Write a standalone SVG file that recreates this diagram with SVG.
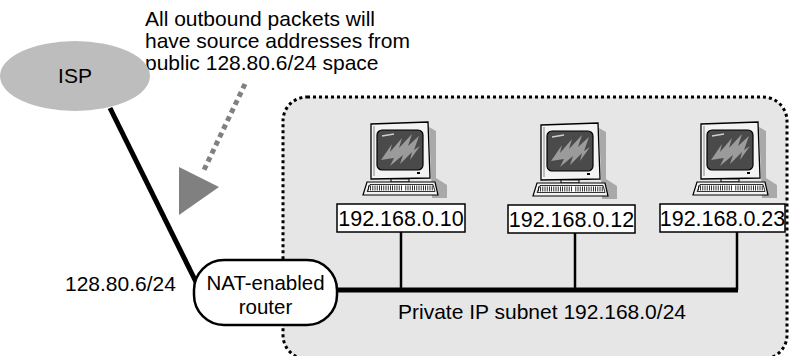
<svg xmlns="http://www.w3.org/2000/svg" width="789" height="356" viewBox="0 0 789 356">
  <style>
    text { font-family: "Liberation Sans", Arial, sans-serif; fill: #000; }
    .t20 { font-size: 21px; }
    .rt { font-size: 20.5px; text-anchor: middle; }
    .lbl { font-size: 21.5px; text-anchor: middle; }
    .box { fill: #fff; stroke: #000; stroke-width: 1.5; }
    .drop { stroke: #000; stroke-width: 2.5; }
    .thick { stroke: #000; stroke-width: 5; fill: none; }
  </style>
  <defs>
    <!-- desktop computer icon, origin at top centre of monitor -->
    <g id="pc">
      <path d="M29,5 L36,9 L36,56 L47,63 L47,76 L32,76 Z" fill="#a9a9a9"/>
      <path d="M-29,2 L28,0 L30,56 L-29,57 Z" fill="#f3f3f3" stroke="#000" stroke-width="1.3"/>
      <path d="M-26,4 L-26,54" stroke="#888" stroke-width="1"/>
      <rect x="-23" y="8" width="46" height="40" rx="5" fill="#4a4a4a" stroke="#000" stroke-width="1.2"/>
      <path d="M-19,38 L-8,22 L-10,30 L2,16 L-1,26 L12,12 L8,24 L19,14 L14,28 L20,24 L10,38 L12,30 L0,42 L3,33 L-10,44 L-6,36 Z" fill="#9b9b9b"/>
      <path d="M-18,14 L-6,12" stroke="#d0d0d0" stroke-width="1.5"/>
      <rect x="17" y="50" width="3" height="2" fill="#000"/>
      <rect x="-9" y="57" width="18" height="3" fill="#f3f3f3" stroke="#000" stroke-width="1"/>
      <path d="M-33,60 L35,60 L38,73 L-37,73 Z" fill="#f3f3f3" stroke="#000" stroke-width="1.2"/>
      <path d="M-30,62.5 L33,62.5 L35,69.5 L-33,69.5 Z" fill="#fff" stroke="#000" stroke-width="0.8"/>
      <line x1="-32" y1="66" x2="34" y2="66" stroke="#000" stroke-width="5" stroke-dasharray="0.8 1.4"/>
      <line x1="3" y1="63" x2="3" y2="69" stroke="#fff" stroke-width="2"/>
    </g>
  </defs>

  <!-- private network area -->
  <g id="private-subnet">
    <rect x="283" y="97" width="504" height="262" rx="24" fill="#e6e6e6" stroke="#000" stroke-width="3" stroke-dasharray="3 3"/>
  </g>

  <!-- connectors -->
  <g id="connectors">
    <line class="thick" x1="110" y1="108" x2="197" y2="284"/>
    <line class="thick" x1="335" y1="290" x2="738" y2="290"/>
    <line class="drop" x1="401" y1="232" x2="401" y2="290"/>
    <line class="drop" x1="575" y1="232" x2="575" y2="290"/>
    <line class="drop" x1="737" y1="232" x2="737" y2="290"/>
    <line x1="245" y1="84" x2="203" y2="172" stroke="#808080" stroke-width="5" stroke-dasharray="5 4"/>
    <polygon points="179,167 219,187 179,215" fill="#808080"/>
  </g>

  <!-- annotation -->
  <g id="note">
    <text class="t20" x="145" y="26">All outbound packets will</text>
    <text class="t20" x="145" y="48">have source addresses from</text>
    <text class="t20" x="145" y="70">public 128.80.6/24 space</text>
  </g>

  <g id="isp">
    <ellipse cx="75" cy="76" rx="75" ry="35" fill="#bdbdbd"/>
    <text class="t20" x="75" y="83" text-anchor="middle">ISP</text>
  </g>

  <g id="router">
    <rect x="194" y="260" width="143" height="65" rx="30" fill="#fff" stroke="#000" stroke-width="2.5"/>
    <text class="rt" x="265.5" y="290">NAT-enabled</text>
    <text class="rt" x="265.5" y="314">router</text>
  </g>

  <g id="public-address">
    <text class="t20" x="65" y="291">128.80.6/24</text>
  </g>

  <g id="host-10">
    <use href="#pc" x="400" y="122"/>
    <rect class="box" x="337" y="204" width="128" height="28"/>
    <text class="lbl" x="401" y="226">192.168.0.10</text>
  </g>

  <g id="host-12">
    <use href="#pc" x="570" y="123"/>
    <rect class="box" x="508" y="205" width="127" height="28"/>
    <text class="lbl" x="571.5" y="227">192.168.0.12</text>
  </g>

  <g id="host-23">
    <use href="#pc" x="730" y="122"/>
    <rect class="box" x="660" y="204" width="125" height="28"/>
    <text class="lbl" x="722.5" y="226">192.168.0.23</text>
  </g>

  <g id="subnet-label">
    <text class="t20" x="398" y="319">Private IP subnet 192.168.0/24</text>
  </g>
</svg>
